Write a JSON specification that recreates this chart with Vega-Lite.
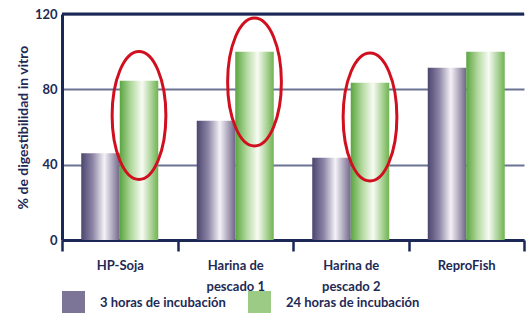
{
  "$schema": "https://vega.github.io/schema/vega-lite/v6.json",
  "width": 462,
  "height": 226,
  "autosize": "none",
  "padding": {"left": 62, "top": 14, "right": 2, "bottom": 73},
  "background": "white",
  "config": {
    "view": {"stroke": null},
    "font": "Lato"
  },
  "datasets": {
    "barras": [
      {"producto": "HP-Soja", "serie": "3 horas de incubación", "valor": 46},
      {"producto": "HP-Soja", "serie": "24 horas de incubación", "valor": 84.5},
      {"producto": "Harina de pescado 1", "serie": "3 horas de incubación", "valor": 63.3},
      {"producto": "Harina de pescado 1", "serie": "24 horas de incubación", "valor": 100},
      {"producto": "Harina de pescado 2", "serie": "3 horas de incubación", "valor": 43.7},
      {"producto": "Harina de pescado 2", "serie": "24 horas de incubación", "valor": 83.5},
      {"producto": "ReproFish", "serie": "3 horas de incubación", "valor": 91.5},
      {"producto": "ReproFish", "serie": "24 horas de incubación", "valor": 100}
    ],
    "elipses": [
      {"producto": "HP-Soja", "serie": "24 horas de incubación", "centro": 66.1},
      {"producto": "Harina de pescado 1", "serie": "24 horas de incubación", "centro": 83.9},
      {"producto": "Harina de pescado 2", "serie": "24 horas de incubación", "centro": 65.3}
    ]
  },
  "layer": [
    {
      "data": {"name": "barras"},
      "mark": {"type": "bar", "opacity": 0},
      "encoding": {
        "x": {
          "field": "producto",
          "type": "nominal",
          "scale": {"domain": ["HP-Soja", "Harina de pescado 1", "Harina de pescado 2", "ReproFish"], "paddingInner": 0, "paddingOuter": 0},
          "axis": {
            "title": null,
            "domainColor": "#1b2856",
            "domainWidth": 3,
            "tickBand": "extent",
            "tickColor": "#1b2856",
            "tickWidth": 2.5,
            "tickSize": 11,
            "labelAngle": 0,
            "labelFont": "Lato",
            "labelFontSize": 13,
            "labelFontWeight": "bold",
            "labelColor": "#1e2a55",
            "labelBaseline": "middle",
            "labelPadding": 14,
            "labelLineHeight": 21,
            "labelExpr": "(isString(datum.label) && indexof(datum.label, 'Harina') == 0) ? ['Harina de', slice(datum.label, 10)] : datum.label"
          }
        },
        "xOffset": {
          "field": "serie",
          "type": "nominal",
          "scale": {"domain": ["3 horas de incubación", "24 horas de incubación"], "paddingInner": 0, "paddingOuter": 0.5}
        },
        "y": {
          "field": "valor",
          "type": "quantitative",
          "scale": {"domain": [0, 120], "nice": false},
          "axis": {
            "title": "% de digestibilidad in vitro",
            "values": [0, 20, 40, 60, 80, 100, 120],
            "domainColor": "#1b2856",
            "domainWidth": 3,
            "ticks": false,
            "labelPadding": 5,
            "labelFont": "Lato",
            "labelFontSize": 13,
            "labelFontWeight": "bold",
            "labelColor": "#1e2a55",
            "grid": true,
            "gridColor": "#6b7393",
            "gridWidth": 1.8,
            "titleFont": "Lato",
            "titleFontSize": 14,
            "titleFontWeight": "bold",
            "titleColor": "#1e2a55",
            "titlePadding": 4
          }
        },
        "fill": {
          "field": "serie",
          "type": "nominal",
          "scale": {
            "domain": ["3 horas de incubación", "24 horas de incubación"],
            "range": ["#7d7597", "#9ccb85"]
          },
          "legend": {
            "title": null,
            "orient": "none",
            "legendX": 0,
            "legendY": 277,
            "direction": "horizontal",
            "symbolType": "square",
            "symbolSize": 529,
            "symbolStrokeWidth": 0,
            "symbolOpacity": 1,
            "labelFont": "Lato",
            "labelFontSize": 13,
            "labelFontWeight": "bold",
            "labelColor": "#1e2a55",
            "labelOffset": 15,
            "columnPadding": 22,
            "padding": 0,
            "encode": {
              "symbols": {
                "update": {
                  "opacity": {"value": 1},
                  "fill": [
                    {"test": "datum.value == '3 horas de incubación'",
                     "value": {"gradient": "linear", "x1": 0, "y1": 0, "x2": 1, "y2": 0,
                       "stops": [
                         {"offset": 0, "color": "#4b456f"},
                         {"offset": 0.3, "color": "#8e86a6"},
                         {"offset": 0.6, "color": "#f4f2f7"},
                         {"offset": 1, "color": "#6f6589"}
                       ]}},
                    {"value": {"gradient": "linear", "x1": 0, "y1": 0, "x2": 1, "y2": 0,
                       "stops": [
                         {"offset": 0, "color": "#5aa540"},
                         {"offset": 0.3, "color": "#b3d99f"},
                         {"offset": 0.58, "color": "#f8fbf4"},
                         {"offset": 1, "color": "#6fb350"}
                       ]}}
                  ]
                }
              }
            }
          }
        }
      }
    },
    {
      "data": {"name": "barras"},
      "transform": [{"filter": "datum.serie == '3 horas de incubación'"}],
      "mark": {
        "type": "bar",
        "fill": {"gradient": "linear", "x1": 0, "y1": 0, "x2": 1, "y2": 0,
          "stops": [
            {"offset": 0, "color": "#4b456f"},
            {"offset": 0.3, "color": "#8e86a6"},
            {"offset": 0.6, "color": "#f4f2f7"},
            {"offset": 1, "color": "#6f6589"}
          ]}
      },
      "encoding": {
        "x": {"field": "producto", "type": "nominal", "scale": {"domain": ["HP-Soja", "Harina de pescado 1", "Harina de pescado 2", "ReproFish"]}},
        "xOffset": {"field": "serie", "type": "nominal", "scale": {"domain": ["3 horas de incubación", "24 horas de incubación"]}},
        "y": {"field": "valor", "type": "quantitative"}
      }
    },
    {
      "data": {"name": "barras"},
      "transform": [{"filter": "datum.serie == '24 horas de incubación'"}],
      "mark": {
        "type": "bar",
        "fill": {"gradient": "linear", "x1": 0, "y1": 0, "x2": 1, "y2": 0,
          "stops": [
            {"offset": 0, "color": "#5aa540"},
            {"offset": 0.3, "color": "#b3d99f"},
            {"offset": 0.58, "color": "#f8fbf4"},
            {"offset": 1, "color": "#6fb350"}
          ]}
      },
      "encoding": {
        "x": {"field": "producto", "type": "nominal", "scale": {"domain": ["HP-Soja", "Harina de pescado 1", "Harina de pescado 2", "ReproFish"]}},
        "xOffset": {"field": "serie", "type": "nominal", "scale": {"domain": ["3 horas de incubación", "24 horas de incubación"]}},
        "y": {"field": "valor", "type": "quantitative"}
      }
    },
    {
      "data": {"name": "elipses"},
      "mark": {
        "type": "point",
        "shape": "M0,-1C0.232,-1 0.42,-0.552 0.42,0C0.42,0.552 0.232,1 0,1C-0.232,1 -0.42,0.552 -0.42,0C-0.42,-0.552 -0.232,-1 0,-1Z",
        "size": 16384,
        "filled": false,
        "stroke": "#d0101f",
        "strokeWidth": 3,
        "opacity": 1
      },
      "encoding": {
        "x": {"field": "producto", "type": "nominal", "scale": {"domain": ["HP-Soja", "Harina de pescado 1", "Harina de pescado 2", "ReproFish"]}},
        "xOffset": {"field": "serie", "type": "nominal", "scale": {"domain": ["3 horas de incubación", "24 horas de incubación"]}},
        "y": {"field": "centro", "type": "quantitative"}
      }
    },
    {
      "data": {"values": [{"tope": 120}]},
      "mark": {"type": "rule", "color": "#1b2856", "strokeWidth": 3},
      "encoding": {"y": {"field": "tope", "type": "quantitative"}}
    }
  ]
}
